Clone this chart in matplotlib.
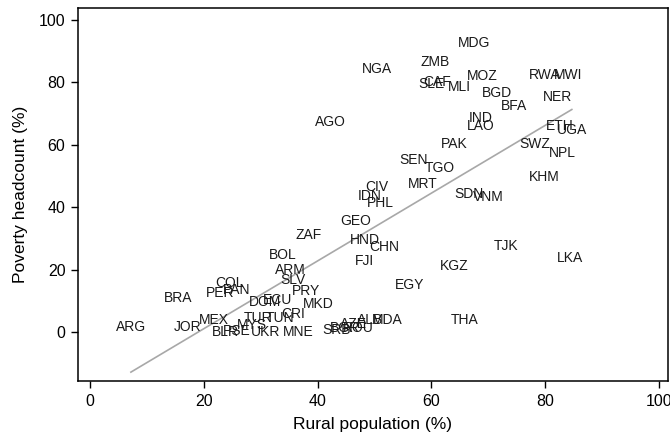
import numpy as np
import matplotlib
matplotlib.use('Agg')
import matplotlib.pyplot as plt

plt.rcParams['font.family'] = ['Liberation Sans', 'DejaVu Sans']

# country codes, rural population (%), poverty headcount (%)
codes = ['ARG', 'JOR', 'BRA', 'MEX', 'COL', 'PER', 'PAN', 'BLR', 'PSE', 'MYS',
         'UKR', 'TUR', 'TUN', 'DOM', 'ECU', 'CRI', 'MNE', 'MKD', 'PRY', 'SLV',
         'ARM', 'BOL', 'ZAF', 'GEO', 'HND', 'CHN', 'FJI', 'IDN', 'CIV', 'PHL',
         'EGY', 'AGO', 'NGA', 'SRB', 'BGR', 'AZE', 'ROU', 'ALB', 'MDA', 'THA',
         'KGZ', 'TJK', 'LKA', 'SDN', 'VNM', 'MRT', 'SEN', 'TGO', 'PAK', 'IND',
         'LAO', 'KHM', 'SWZ', 'NPL', 'ETH', 'UGA', 'NER', 'RWA', 'MWI', 'BFA',
         'BGD', 'MOZ', 'MLI', 'SLE', 'CAF', 'ZMB', 'MDG']
rural = [7.2, 17.2, 15.5, 21.8, 24.6, 22.8, 25.7, 23.8, 25.8, 28.5,
         30.8, 29.5, 33.4, 30.8, 33.0, 35.7, 36.6, 40.1, 38.0, 35.7,
         35.3, 33.9, 38.5, 46.7, 48.3, 51.7, 48.2, 49.2, 50.4, 51.1,
         56.2, 42.2, 50.4, 43.4, 44.8, 46.4, 47.2, 49.3, 52.2, 65.9,
         64.1, 73.1, 84.4, 66.6, 70.1, 58.5, 56.9, 61.5, 64.1, 68.7,
         68.7, 79.8, 78.2, 83.0, 82.6, 84.7, 82.1, 80.0, 84.0, 74.5,
         71.5, 68.9, 65.0, 60.1, 61.0, 60.6, 67.5]
poverty = [1.6, 1.6, 10.9, 3.8, 15.7, 12.5, 13.5, 0.0, 0.2, 2.2,
           0.0, 4.5, 4.5, 9.6, 10.3, 5.8, 0.0, 9.0, 13.1, 16.7,
           19.9, 24.7, 31.1, 35.6, 29.5, 27.2, 22.8, 43.6, 46.5, 41.3,
           15.1, 67.3, 84.3, 0.6, 1.4, 2.6, 1.4, 4.0, 4.0, 3.8,
           21.2, 27.6, 23.7, 44.2, 43.3, 47.4, 55.1, 52.6, 60.3, 68.6,
           66.0, 49.7, 60.3, 57.4, 66.0, 64.7, 75.3, 82.4, 82.4, 72.4,
           76.6, 82.1, 78.5, 79.5, 80.1, 86.5, 92.6]

fig = plt.figure(figsize=(6.7, 4.32), dpi=100)
ax = fig.add_axes([0.1164, 0.118, 0.8806, 0.863])

x = np.array(rural)
y = np.array(poverty)

# linear fit over the range of the data
b, a = np.polyfit(x, y, 1)
xs = np.array([x.min(), x.max()])
ax.plot(xs, a + b * xs, color='#a8a8a8', lw=1.2, zorder=1)

for c, xi, yi in zip(codes, rural, poverty):
    ax.text(xi, yi, c, ha='center', va='center', fontsize=10, color='#1a1a1a')

ax.set_xlim(-2.1, 101.6)
ax.set_ylim(-15.7, 103.8)
ax.set_xticks([0, 20, 40, 60, 80, 100])
ax.set_yticks([0, 20, 40, 60, 80, 100])
ax.tick_params(direction='out', length=5, width=1, labelsize=11.5, pad=4)
for s in ax.spines.values():
    s.set_linewidth(1.1)
ax.set_xlabel('Rural population (%)', fontsize=12.5, labelpad=6)
ax.set_ylabel('Poverty headcount (%)', fontsize=12.5, labelpad=8)

fig.savefig('out.png', dpi=100)
